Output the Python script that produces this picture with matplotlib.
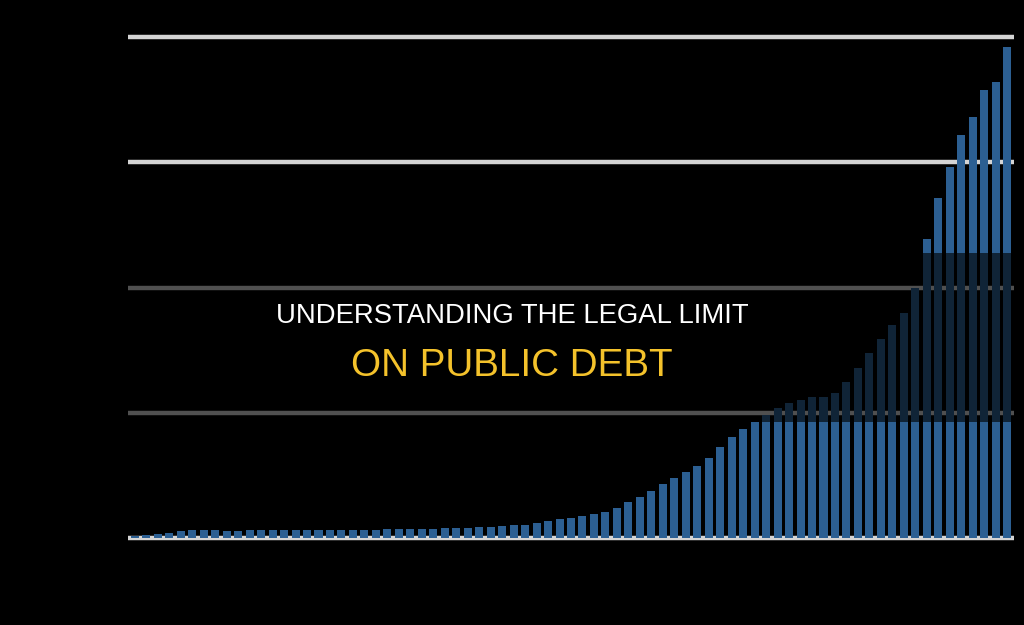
import matplotlib
matplotlib.use("Agg")
import matplotlib.pyplot as plt
from matplotlib.patches import Rectangle

years = list(range(1940, 2017))
debt_trillions = [
    0.08, 0.11, 0.15, 0.21, 0.26, 0.31, 0.31, 0.30, 0.28, 0.28,
    0.30, 0.30, 0.30, 0.31, 0.31, 0.31, 0.31, 0.31, 0.32, 0.33,
    0.33, 0.33, 0.34, 0.36, 0.36, 0.36, 0.37, 0.40, 0.41, 0.41,
    0.45, 0.45, 0.49, 0.53, 0.53, 0.61, 0.69, 0.76, 0.81, 0.88,
    0.96, 1.04, 1.21, 1.44, 1.65, 1.88, 2.16, 2.40, 2.63, 2.87,
    3.19, 3.63, 4.03, 4.35, 4.62, 4.91, 5.18, 5.39, 5.51, 5.64,
    5.64, 5.79, 6.24, 6.79, 7.38, 7.94, 8.50, 8.98, 9.98, 11.94,
    13.57, 14.80, 16.10, 16.80, 17.90, 18.20, 19.60,
]
grid_values = [0, 5, 10, 15, 20]
title_line1 = "UNDERSTANDING THE LEGAL LIMIT"
title_line2 = "ON PUBLIC DEBT"

W, H = 1024, 625
fig = plt.figure(figsize=(W / 100, H / 100), dpi=100, facecolor="black")

ax_left, ax_right = 128, 1014
y_bot_px, y_top_px = 543, 32
ax = fig.add_axes([ax_left / W, (H - y_bot_px) / H,
                   (ax_right - ax_left) / W, (y_bot_px - y_top_px) / H])
ax.set_facecolor("black")

for g in grid_values:
    ax.axhline(g, color="#d4d4d4", linewidth=3.2, zorder=1)

x = list(range(len(years)))
ax.bar(x, debt_trillions, width=0.7, color="#2c5f92", zorder=2)

ax.set_xlim(-0.6, len(years) - 0.4)
ax.set_ylim(-0.2, 20.2)
ax.set_xticks([])
ax.set_yticks([])
for s in ax.spines.values():
    s.set_visible(False)

band_top, band_bot = 253, 422
fig.patches.append(Rectangle((0, (H - band_bot) / H), 1, (band_bot - band_top) / H,
                             transform=fig.transFigure, facecolor="black",
                             alpha=0.62, zorder=5, edgecolor="none"))

fig.text(0.5, (H - 316) / H, title_line1, color="white", fontsize=19.8,
         family=["Liberation Sans", "DejaVu Sans"], ha="center", va="center", zorder=6)
fig.text(0.5, (H - 366) / H, title_line2, color="#f4c22b", fontsize=27.8,
         family=["Liberation Sans", "DejaVu Sans"], ha="center", va="center", zorder=6)

fig.savefig("out.png", dpi=100, facecolor="black")
